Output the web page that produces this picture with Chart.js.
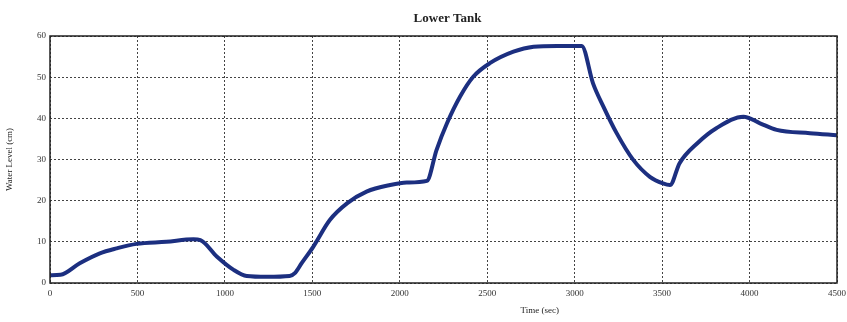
<!DOCTYPE html>
<html>
<head>
<meta charset="utf-8">
<script src="https://cdn.jsdelivr.net/npm/chart.js@4"></script>
<style>
  html, body { margin: 0; padding: 0; background: #fff; }
  #wrap { width: 847px; height: 322px; }
</style>
</head>
<body>
<div id="wrap"><canvas id="tankChart"></canvas></div>
<script>
// Lower tank level readings
const timeSec = [0, 60, 170, 285, 380, 495, 665, 820, 860, 955, 1050, 1125, 1240, 1370, 1400, 1440, 1505, 1600, 1700, 1810, 1945, 2040, 2155, 2210, 2270, 2345, 2420, 2515, 2650, 2765, 2900, 3040, 3105, 3165, 3240, 3335, 3430, 3505, 3545, 3600, 3700, 3810, 3965, 4060, 4155, 4345, 4500];
const levelCm = [1.9, 2.0, 4.8, 7.2, 8.4, 9.5, 10.0, 10.6, 10.4, 6.4, 3.2, 1.7, 1.5, 1.7, 2.4, 4.9, 8.8, 15.3, 19.4, 22.2, 23.8, 24.4, 24.8, 32.3, 38.8, 45.3, 50.1, 53.4, 56.2, 57.4, 57.6, 57.6, 48.5, 42.8, 36.4, 29.9, 25.8, 24.2, 23.8, 29.1, 33.9, 37.6, 40.4, 38.8, 37.2, 36.4, 35.9];
const xTicks = [0, 500, 1000, 1500, 2000, 2500, 3000, 3500, 4000, 4500];
const yTicks = [0, 10, 20, 30, 40, 50, 60];

const points = timeSec.map((t, i) => ({ x: t, y: levelCm[i] }));
const serif = "'Liberation Serif', 'DejaVu Serif', serif";

// frame box and text labels, MATLAB-style
const framePlugin = {
  id: 'frame',
  afterDraw(chart) {
    const { ctx, chartArea: a, scales } = chart;
    ctx.save();
    ctx.strokeStyle = '#222';
    ctx.lineWidth = 1.5;
    ctx.strokeRect(a.left, a.top, a.right - a.left, a.bottom - a.top);

    ctx.fillStyle = '#222';
    ctx.textAlign = 'center';
    ctx.textBaseline = 'middle';
    ctx.font = 'bold 13px ' + serif;
    ctx.fillText('Lower Tank', (a.left + a.right) / 2 + 4, 19);

    ctx.font = '9px ' + serif;
    ctx.fillText('Time (sec)', scales.x.getPixelForValue(2800), 311);

    ctx.translate(10, (a.top + a.bottom) / 2);
    ctx.rotate(-Math.PI / 2);
    ctx.fillText('Water Level (cm)', 0, 0);
    ctx.restore();
  }
};

new Chart(document.getElementById('tankChart'), {
  type: 'line',
  data: {
    datasets: [{
      label: 'Lower Tank',
      data: points,
      borderColor: '#1c2f80',
      borderWidth: 4,
      pointRadius: 0,
      cubicInterpolationMode: 'monotone',
      fill: false
    }]
  },
  options: {
    responsive: true,
    maintainAspectRatio: false,
    animation: false,
    layout: { padding: { top: 36, right: 10, left: 0, bottom: 0 } },
    plugins: {
      legend: { display: false },
      title: { display: false },
      tooltip: { enabled: false }
    },
    scales: {
      x: {
        type: 'linear',
        min: 0,
        max: 4500,
        afterBuildTicks: s => { s.ticks = xTicks.map(v => ({ value: v })); },
        afterFit: s => { s.height = 39; s.paddingLeft = 0; s.paddingRight = 0; },
        grid: { color: '#444', lineWidth: 1, drawTicks: false },
        border: { display: false, dash: [2, 2] },
        ticks: { color: '#333', font: { family: serif, size: 9 }, padding: 5, maxRotation: 0, callback: v => String(v) }
      },
      y: {
        min: 0,
        max: 60,
        afterBuildTicks: s => { s.ticks = yTicks.map(v => ({ value: v })); },
        afterFit: s => { s.width = 50; },
        grid: { color: '#444', lineWidth: 1, drawTicks: false },
        border: { display: false, dash: [2, 2] },
        ticks: { color: '#333', font: { family: serif, size: 9 }, padding: 4, callback: v => String(v) }
      }
    }
  },
  plugins: [framePlugin]
});
</script>
</body>
</html>
